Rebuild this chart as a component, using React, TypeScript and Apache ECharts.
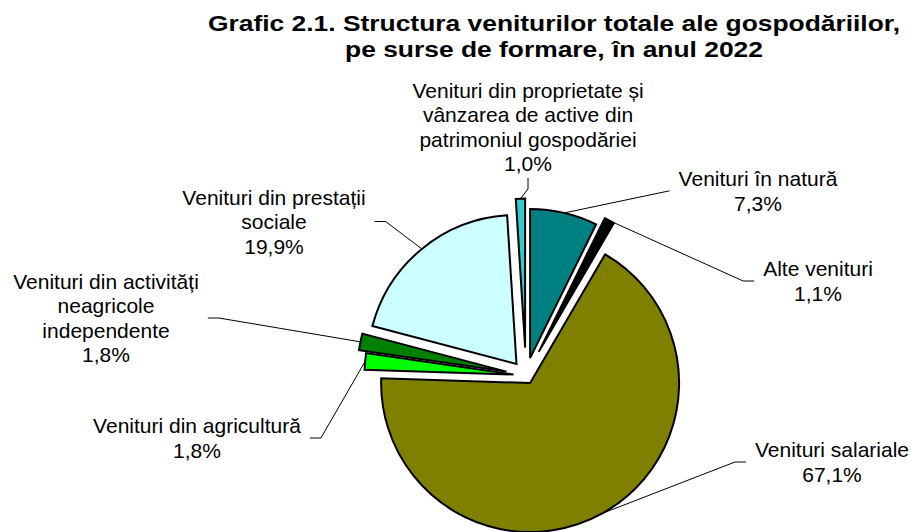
import React, { useEffect, useRef } from "react";
import * as echarts from "echarts";

const titleText = "Grafic 2.1. Structura veniturilor totale ale gospodăriilor,\npe surse de formare, în anul 2022";

const categories = [
  "Venituri în natură",
  "Alte venituri",
  "Venituri salariale",
  "Venituri din agricultură",
  "Venituri din activități\nneagricole\nindependente",
  "Venituri din prestații\nsociale",
  "Venituri din proprietate și\nvânzarea de active din\npatrimoniul gospodăriei",
];
const values = [7.3, 1.1, 67.1, 1.8, 1.8, 19.9, 1.0];

// styles / layout (not data)
const colors = ["#008080", "#000000", "#808000", "#00FF00", "#008000", "#CCFFFF", "#33CCCC"];
const explode = [18, 27, 8.5, 12.5, 20, 15, 28];
const labelCenters = [
  [758, 191],
  [818, 281],
  [832, 462],
  [197, 438],
  [106, 318],
  [274, 221.5],
  [528, 127],
];
const leaderTail = [1, 11, 11, 11, 11, 11, 11];
const pieCenter = [526, 375.6];
const pieRadius = 149;
const FONT = "'Liberation Sans', Arial, sans-serif";

export default function App() {
  const ref = useRef<HTMLDivElement>(null);
  useEffect(() => {
    if (!ref.current) return;
    const chart = echarts.init(ref.current, null, { renderer: "svg" });
    const total = values.reduce((a, b) => a + b, 0);
    let cum = 0;
    const mids = values.map((v) => {
      const m = ((cum + v / 2) / total) * 2 * Math.PI;
      cum += v;
      return m;
    });
    const fmt = (v: number) => v.toFixed(1).replace(".", ",") + "%";

    const series = values.map((_, si) => ({
      type: "pie",
      startAngle: 90,
      clockwise: true,
      radius: pieRadius,
      center: [
        pieCenter[0] + explode[si] * Math.sin(mids[si]),
        pieCenter[1] - explode[si] * Math.cos(mids[si]),
      ],
      avoidLabelOverlap: false,
      silent: true,
      emphasis: { disabled: true },
      labelLayout: (params: any) => {
        const p = labelCenters[params.dataIndex];
        return { x: p[0], y: p[1], align: "center", verticalAlign: "middle" };
      },
      data: values.map((v, i) => {
        const visible = i === si;
        return {
          name: categories[i],
          value: v,
          itemStyle: visible
            ? { color: colors[i], borderColor: "#000", borderWidth: 2, borderJoin: "miter" }
            : { color: "rgba(0,0,0,0)", borderWidth: 0 },
          label: visible
            ? {
                show: true,
                position: "outside",
                formatter: `${categories[i]}\n${fmt(v)}`,
                fontFamily: FONT,
                fontSize: 21,
                lineHeight: 24.5,
                color: "#000",
                padding: [2, 9],
                backgroundColor: "rgba(0,0,0,0)",
              }
            : { show: false },
          labelLine: visible
            ? { show: true, length: 15, length2: leaderTail[i], lineStyle: { color: "#000", width: 1 } }
            : { show: false },
        };
      }),
    }));

    chart.setOption({
      animation: false,
      backgroundColor: "#fff",
      graphic: [
        {
          type: "text",
          x: 554,
          y: 10,
          scaleX: 1.2,
          style: {
            text: titleText,
            fontFamily: FONT,
            fontWeight: "bold",
            fontSize: 22,
            lineHeight: 26,
            textAlign: "center",
            textVerticalAlign: "top",
            fill: "#000",
          },
        },
      ],
      series,
    });
    return () => chart.dispose();
  }, []);
  return (
    <div
      ref={ref}
      style={{ position: "absolute", left: 0, top: 0, width: 915, height: 532 }}
    />
  );
}
